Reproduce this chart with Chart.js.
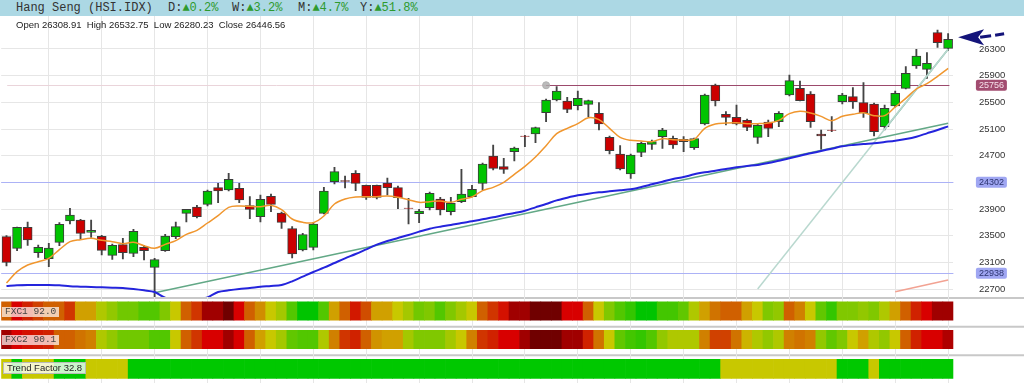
<!DOCTYPE html>
<html>
<head>
<meta charset="utf-8">
<script src="https://cdn.jsdelivr.net/npm/chart.js@4.4.0/dist/chart.umd.min.js"></script>
<style>
body{margin:0;width:1024px;height:383px;overflow:hidden;background:#fff;position:relative;font-family:"Liberation Sans",Arial,sans-serif}
#head{position:absolute;left:0;top:0;width:1024px;height:16px;background:#acd8e4;font-family:"Liberation Mono",monospace;font-size:12px;color:#333;line-height:16px}
#head .pos{position:absolute;top:0;white-space:pre}
.up{color:#2e9a2e}
#ohlc{position:absolute;left:16px;top:19px;font-size:9.5px;color:#222;white-space:pre;line-height:11px}
#main{position:absolute;left:0;top:16px}
#strips{position:absolute;left:0;top:297px}
.lbl{position:absolute;left:2px;height:10px;line-height:10px;padding:0 3px;background:rgba(255,255,255,0.7);font-family:"Liberation Mono",monospace;font-size:9.5px;color:#444;white-space:pre}
.lbl2{position:absolute;left:3px;top:362px;height:10px;line-height:10px;padding:0 3px;background:rgba(255,255,255,0.8);border:1px solid #bbb;font-size:9.5px;color:#222;white-space:pre}
</style>
</head>
<body>
<div id="head">
  <span class="pos" style="left:16px">Hang Seng (HSI.IDX)</span>
  <span class="pos" style="left:168px">D:<span class="up">▲0.2%</span></span>
  <span class="pos" style="left:232px">W:<span class="up">▲3.2%</span></span>
  <span class="pos" style="left:298px">M:<span class="up">▲4.7%</span></span>
  <span class="pos" style="left:360px">Y:<span class="up">▲51.8%</span></span>
</div>
<canvas id="main" width="1024" height="281"></canvas>
<div id="ohlc"></div>
<canvas id="strips" width="1024" height="86"></canvas>
<div class="lbl" id="l1" style="top:307px"></div>
<div class="lbl" id="l2" style="top:335px"></div>
<div class="lbl2" id="l3"></div>
<script>
// daily candles, oldest first
const opens = [23485,23310,23625,23245,23155,23400,23720,23735,23550,23490,
  23205,23365,23235,23325,23025,23275,23485,23835,23930,23970,
  24220,24185,24210,23950,23785,24090,23840,23605,23285,23325,
  23835,24310,24325,24435,24255,24255,24290,24220,23915,23830,
  23920,24050,23860,24010,24085,24285,24695,24535,24760,24995,
  25025,25345,25535,25520,25450,25470,25335,24975,24725,24425,
  24750,24870,24985,24960,24945,24820,25175,25760,25320,25275,
  25230,24975,25205,25210,25610,25710,25625,25025,25085,25510,
  25585,25495,25475,25135,25445,25710,26045,25995,26545,26308.91];
const highs = [23500,23630,23705,23360,23385,23695,23910,23745,23735,23505,
  23375,23460,23595,23355,23160,23520,23705,23895,23955,24185,
  24285,24435,24285,24085,24110,24125,23855,23635,23535,23695,
  24225,24525,24395,24475,24260,24260,24365,24245,24060,23895,
  24155,24075,24075,24495,24255,24590,24860,24660,24830,25005,
  25130,25550,25735,25575,25670,25535,25495,24995,24850,24725,
  24905,24935,25110,24995,24985,24965,25625,25775,25360,25460,
  25250,25175,25235,25360,25910,25820,25660,25085,25285,25635,
  25720,25795,25490,25460,25670,26035,26295,26245,26585,26532.75];
const lows = [23045,23275,23355,23175,23035,23350,23675,23445,23475,23210,
  23145,23150,23185,23135,22560,23265,23455,23705,23765,23945,
  23995,24170,23995,23755,23705,23860,23610,23165,23270,23285,
  23825,24275,24215,24175,24045,24050,24110,23905,23675,23695,
  23885,23810,23810,23995,24080,24185,24485,24435,24620,24835,
  24895,25210,25520,25345,25385,25285,25085,24725,24485,24360,
  24685,24795,24810,24810,24760,24795,25160,25445,25160,25160,
  25075,24885,24985,25135,25595,25520,25125,24795,25060,25475,
  25410,25275,24995,25085,25430,25700,26010,25860,26325,26280.23];
const closes = [23100,23625,23435,23325,23315,23670,23810,23535,23580,23280,
  23355,23245,23565,23275,23140,23495,23635,23895,23785,24170,
  24170,24345,24035,23895,24045,23970,23700,23225,23515,23675,
  24170,24460,24315,24285,24075,24075,24220,24070,23910,23870,
  24135,23885,23985,24125,24195,24575,24510,24495,24815,24990,
  25120,25535,25670,25395,25560,25525,25175,24775,24500,24710,
  24885,24910,25085,24860,24910,24955,25610,25520,25275,25175,
  25125,25155,25110,25335,25825,25525,25210,24995,25080,25610,
  25510,25345,25060,25410,25635,25935,26195,26085,26395,26446.56];

// moving averages
const maShort = [22790,22960,23060,23110,23160,23290,23410,23440,23460,23430,
  23410,23380,23400,23350,23310,23370,23425,23520,23580,23690,
  23800,23925,23945,23940,23935,23955,23890,23750,23700,23695,
  23795,23975,24050,24080,24085,24085,24095,24075,24040,24000,
  24010,24020,24000,24045,24080,24175,24225,24300,24420,24540,
  24680,24850,25030,25110,25180,25270,25240,25110,24975,24930,
  24920,24910,24955,24940,24935,24945,25110,25175,25190,25195,
  25180,25180,25190,25230,25330,25365,25340,25290,25225,25290,
  25320,25345,25300,25300,25430,25560,25700,25780,25890,26010];
const maLong = [22745,22755,22760,22760,22760,22755,22740,22735,22730,22725,
  22720,22715,22700,22680,22655,22570,22550,22540,22545,22575,
  22655,22680,22700,22715,22735,22745,22760,22815,22885,22955,
  23020,23090,23160,23225,23295,23365,23420,23465,23510,23560,
  23605,23635,23660,23690,23715,23745,23775,23810,23840,23875,
  23925,23975,24030,24070,24105,24130,24150,24165,24180,24195,
  24230,24270,24310,24350,24380,24420,24450,24475,24500,24525,
  24545,24560,24590,24625,24660,24700,24735,24770,24805,24840,
  24860,24875,24885,24905,24925,24950,24985,25035,25085,25140];

// drawn trend lines: [start index, start value, end index, end value]
const trendLong = [14, 22645, 89, 25185];
const trendSteep = [71, 22700, 89, 26295];
const trendSteepNear = [83, 25093, 89, 26295];
const trendLow = [84, 22660, 89, 22835];

// horizontal levels
const resistance = 25756;
const resistanceFrom = 51;
const supports = [24302, 22938];
const priceTicks = [22700, 23100, 23500, 23900, 24300, 24700, 25100, 25500, 25900, 26300];

// indicator strips
const fxc1 = [65,85,75,70,65,65,72,55,55,38,30,22,22,16,16,25,45,65,72,92,
  92,100,85,65,58,45,35,16,0,0,16,55,65,78,68,55,55,45,35,22,
  25,16,25,35,45,65,72,80,92,92,100,100,100,85,85,65,45,25,16,10,
  0,0,13,13,19,38,55,62,65,65,55,45,25,30,65,60,45,19,10,25,
  25,30,25,38,55,65,75,85,92,92.0];
const fxc2 = [92,85,80,78,75,65,65,62,60,38,30,22,22,22,16,16,45,65,72,85,
  85,92,85,65,55,45,35,19,16,16,38,60,72,75,65,57,55,55,35,25,
  25,25,35,45,60,72,75,85,85,92,100,100,100,92,92,75,62,45,19,13,
  10,16,30,38,38,38,60,70,70,62,50,38,30,38,60,62,60,30,19,25,
  45,55,38,30,45,65,75,85,85,90.1];
const trendUp = [0,1,0,0,0,1,1,1,0,0,0,0,
  1,1,1,1,1,1,1,1,1,1,1,1,1,1,1,1,1,1,1,1,
  1,1,1,1,1,1,1,1,1,1,1,1,1,1,1,1,1,1,1,1,
  1,1,1,1,1,1,1,1,1,1,1,1,1,1,1,1,
  0,0,0,0,0,0,0,0,0,0,0,
  1,1,1,0,1,1,1,1,1,1,1];
const trendFactor = 32.8;

const days = opens.map((o, i) => i + 1);
const last = opens.length - 1;

document.getElementById('ohlc').textContent =
  'Open ' + opens[last].toFixed(2) + '  High ' + highs[last].toFixed(2) +
  '  Low ' + lows[last].toFixed(2) + '  Close ' + closes[last].toFixed(2);
document.getElementById('l1').textContent = 'FXC1 ' + fxc1[last].toFixed(1);
document.getElementById('l2').textContent = 'FXC2 ' + fxc2[last].toFixed(1);
document.getElementById('l3').textContent = 'Trend Factor ' + trendFactor.toFixed(1);

function segment(t) {
  const arr = days.map(() => null);
  arr[t[0]] = t[1];
  arr[t[2]] = t[3];
  return arr;
}

const GRID = '#e6e6e6';
const AREA_LEFT = 1.2;
const AXIS_W = 70.6;

const levelsPlugin = {
  id: 'levels',
  beforeDatasetsDraw(chart) {
    const {ctx, chartArea: a, scales: {x, y}} = chart;
    ctx.save();
    ctx.lineWidth = 1;
    supports.forEach(v => {
      const py = Math.round(y.getPixelForValue(v)) + 0.5;
      ctx.strokeStyle = '#acb2f6';
      ctx.beginPath(); ctx.moveTo(a.left, py); ctx.lineTo(a.right, py); ctx.stroke();
    });
    const ry = Math.round(y.getPixelForValue(resistance)) + 0.5;
    const rx = x.getPixelForValue(resistanceFrom);
    ctx.strokeStyle = '#ead4da';
    ctx.beginPath(); ctx.moveTo(a.left + 6, ry); ctx.lineTo(rx, ry); ctx.stroke();
    ctx.strokeStyle = '#9c4a6c';
    ctx.lineWidth = 1.2;
    ctx.beginPath(); ctx.moveTo(rx, ry); ctx.lineTo(a.right - 4, ry); ctx.stroke();
    ctx.restore();
  },
  afterDraw(chart) {
    const {ctx, chartArea: a, scales: {x, y}} = chart;
    ctx.save();
    // anchor of the resistance line
    const rx = x.getPixelForValue(resistanceFrom);
    const ry = y.getPixelForValue(resistance);
    ctx.fillStyle = 'rgba(170,170,170,0.8)';
    ctx.strokeStyle = '#b0b0b0';
    ctx.beginPath(); ctx.arc(rx, ry, 3.5, 0, Math.PI * 2); ctx.fill(); ctx.stroke();

    // level tags on the axis
    ctx.font = '9px "Liberation Sans", Arial';
    ctx.textAlign = 'center';
    ctx.textBaseline = 'middle';
    const tag = (v, bg, fg) => {
      const py = y.getPixelForValue(v);
      const bx = a.right + 22.5, bw = 31, bh = 11;
      ctx.fillStyle = bg;
      ctx.beginPath();
      ctx.roundRect(bx, py - bh / 2, bw, bh, 2);
      ctx.fill();
      ctx.fillStyle = fg;
      ctx.fillText(String(v), bx + bw / 2, py + 0.5);
    };
    tag(resistance, '#a24c70', '#f6e0ea');
    supports.forEach(v => tag(v, '#9fa6f2', '#2c3470'));

    // arrow at the last candle
    const tx = x.getPixelForValue(last) + 10;
    const ty = y.getPixelForValue(closes[last]) - 2;
    ctx.fillStyle = '#14147a';
    ctx.beginPath();
    ctx.moveTo(tx, ty);
    ctx.lineTo(tx + 26, ty - 8);
    ctx.lineTo(tx + 20, ty);
    ctx.lineTo(tx + 26, ty + 8);
    ctx.closePath();
    ctx.fill();
    ctx.strokeStyle = '#14147a';
    ctx.lineWidth = 3;
    ctx.beginPath();
    ctx.moveTo(tx + 22, ty); ctx.lineTo(tx + 33, ty - 1.5);
    ctx.moveTo(tx + 37, ty - 2); ctx.lineTo(tx + 46, ty - 3.5);
    ctx.stroke();
    ctx.restore();
  }
};

new Chart(document.getElementById('main'), {
  type: 'bar',
  data: {
    labels: days,
    datasets: [
      {
        label: 'wick',
        data: lows.map((l, i) => [l, highs[i]]),
        backgroundColor: '#444',
        barThickness: 1.2,
        grouped: false,
        order: 3
      },
      {
        label: 'body',
        data: opens.map((o, i) => [o, closes[i]]),
        backgroundColor: opens.map((o, i) => closes[i] >= o ? '#00c400' : '#cc0000'),
        borderColor: '#3c3c3c',
        borderWidth: 1,
        borderSkipped: false,
        barThickness: 9,
        grouped: false,
        order: 2
      },
      {type: 'line', label: 'trend long', data: segment(trendLong), borderColor: '#62a886', borderWidth: 1.5, pointRadius: 0, spanGaps: true, order: 1},
      {type: 'line', label: 'trend steep', data: segment(trendSteep), borderColor: '#b9d8cf', borderWidth: 1.5, pointRadius: 0, spanGaps: true, order: 1},
      {type: 'line', label: 'trend steep near', data: segment(trendSteepNear), borderColor: '#72ae98', borderWidth: 1.5, pointRadius: 0, spanGaps: true, order: 1},
      {type: 'line', label: 'trend low', data: segment(trendLow), borderColor: '#f2a292', borderWidth: 1.5, pointRadius: 0, spanGaps: true, order: 1},
      {type: 'line', label: 'MA long', data: maLong, borderColor: '#2424dc', borderWidth: 2, pointRadius: 0, tension: 0.3, order: 0},
      {type: 'line', label: 'MA short', data: maShort, borderColor: '#f0962e', borderWidth: 1.5, pointRadius: 0, tension: 0.35, order: 0}
    ]
  },
  options: {
    responsive: false,
    animation: false,
    layout: {padding: {left: AREA_LEFT, right: 0, top: 0, bottom: 0}},
    plugins: {legend: {display: false}, tooltip: {enabled: false}},
    scales: {
      x: {
        offset: true,
        ticks: {display: false},
        border: {display: false},
        grid: {offset: false, drawTicks: false, color: c => c.index % 5 === 4 ? GRID : 'rgba(0,0,0,0)'},
        afterFit: s => { s.height = 0; }
      },
      y: {
        position: 'right',
        min: 22580,
        max: 26795,
        border: {display: false},
        grid: {drawTicks: false, color: GRID},
        ticks: {padding: 25.5, color: '#333', font: {size: 9.5, family: '"Liberation Sans", Arial'}, callback: v => String(v)},
        afterBuildTicks: s => { s.ticks = priceTicks.map(v => ({value: v})); },
        afterFit: s => { s.width = AXIS_W; s.paddingTop = 0; s.paddingBottom = 0; }
      }
    }
  },
  plugins: [levelsPlugin]
});

// colour ramp for FXC values: low = green, high = dark red
const ramp = [[0, [0, 196, 0]], [25, [128, 200, 0]], [45, [200, 200, 0]], [55, [208, 160, 0]],
  [65, [208, 96, 0]], [75, [208, 34, 0]], [85, [216, 0, 0]], [92, [160, 0, 0]], [100, [112, 0, 0]]];
function fxcColor(v) {
  for (let k = 1; k < ramp.length; k++) {
    if (v <= ramp[k][0]) {
      const [v0, c0] = ramp[k - 1], [v1, c1] = ramp[k];
      const t = (v - v0) / (v1 - v0);
      return 'rgb(' + c0.map((c, j) => Math.round(c + (c1[j] - c) * t)).join(',') + ')';
    }
  }
  return 'rgb(112,0,0)';
}

const separators = {
  id: 'separators',
  beforeDraw(chart) {
    const {ctx, width, scales: {y}} = chart;
    ctx.save();
    ctx.strokeStyle = '#c8c8c8';
    ctx.lineWidth = 2;
    [0, 1, 2].forEach(v => {
      const py = y.getPixelForValue(v) + 1;
      ctx.beginPath(); ctx.moveTo(0, py); ctx.lineTo(width, py); ctx.stroke();
    });
    ctx.restore();
  }
};

const stripBar = {barPercentage: 1, categoryPercentage: 1, grouped: false, borderWidth: 0};
new Chart(document.getElementById('strips'), {
  type: 'bar',
  data: {
    labels: days,
    datasets: [
      Object.assign({label: 'FXC1', data: fxc1.map(() => [0.17, 0.81]), backgroundColor: fxc1.map(fxcColor)}, stripBar),
      Object.assign({label: 'FXC2', data: fxc2.map(() => [1.16, 1.8]), backgroundColor: fxc2.map(fxcColor)}, stripBar),
      Object.assign({label: 'Trend Factor', data: trendUp.map(() => [2.17, 2.84]), backgroundColor: trendUp.map(t => t ? '#00c800' : '#c8c800')}, stripBar)
    ]
  },
  options: {
    responsive: false,
    animation: false,
    layout: {padding: {left: AREA_LEFT, right: AXIS_W, top: 0, bottom: 0}},
    plugins: {legend: {display: false}, tooltip: {enabled: false}},
    scales: {
      x: {
        offset: true,
        ticks: {display: false},
        border: {display: false},
        grid: {offset: false, drawTicks: false, color: c => c.index % 5 === 4 ? GRID : 'rgba(0,0,0,0)'},
        afterFit: s => { s.height = 0; }
      },
      y: {display: false, min: 0, max: 3, reverse: true}
    }
  },
  plugins: [separators]
});
</script>
</body>
</html>
